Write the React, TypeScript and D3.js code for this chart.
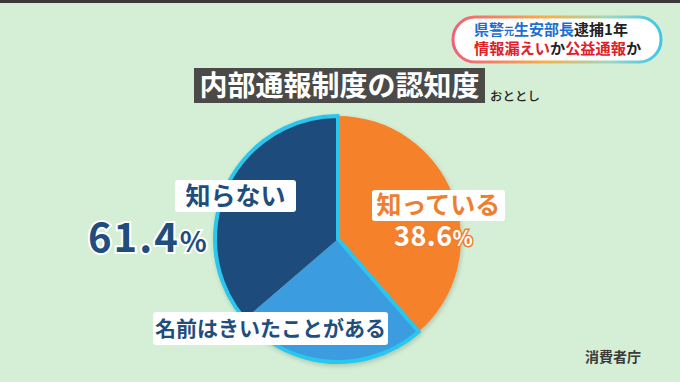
import React from "react";
import * as d3 from "d3";

const categories = ["知っている", "名前はきいたことがある", "全く知らない"];
const values = [38.6, 25.1, 36.3];
const groupLabels = ["知っている", "知らない"];
const groupValues = [38.6, 61.4];
const sliceColors = ["#f5822c", "#3b9de0", "#1c4b7c"];

const W = 680;
const H = 382;
const cx = 338;
const cy = 239;
const R = 123;

const FONT = "'Noto Sans CJK JP', 'Noto Sans', sans-serif";

export default function App() {
  const pie = d3.pie<number>().sort(null).value((d) => d)(values);
  const arc = d3.arc<d3.PieArcDatum<number>>().innerRadius(0).outerRadius(R);
  const groupArc = d3
    .arc()
    .innerRadius(0)
    .outerRadius(R)
    .startAngle(pie[1].startAngle)
    .endAngle(pie[2].endAngle);

  const fmt = (v: number) => v.toFixed(1);

  return (
    <svg
      width={W}
      height={H}
      style={{ position: "fixed", left: 0, top: 0, display: "block" }}
      fontFamily={FONT}
    >
      <defs>
        <linearGradient id="pill" x1="0" x2="1" y1="0" y2="0">
          <stop offset="0" stopColor="#f0607a" />
          <stop offset="0.45" stopColor="#f5b04a" />
          <stop offset="0.75" stopColor="#9ed8c0" />
          <stop offset="1" stopColor="#3fc6ea" />
        </linearGradient>
        <filter id="sh" x="-20%" y="-20%" width="140%" height="140%">
          <feDropShadow dx="1" dy="2" stdDeviation="2" floodColor="#000" floodOpacity="0.18" />
        </filter>
      </defs>
      <rect x={0} y={0} width={W} height={H} fill="#d4efd5" />
      <rect x={0} y={0} width={W} height={3} fill="#3a3a3a" />

      {/* top-right badge */}
      <rect x={453} y={17} width={208} height={45} rx={22} fill="#ffffff" stroke="url(#pill)" strokeWidth={3} />
      <text x={474} y={35} fontSize={15} fontWeight={700}>
        <tspan fill="#1a6fd2">県警</tspan>
        <tspan fill="#1a6fd2" fontSize={10}>元</tspan>
        <tspan fill="#1a6fd2">生安部長</tspan>
        <tspan fill="#222">逮捕1年</tspan>
      </text>
      <text x={474} y={54} fontSize={15.2} fontWeight={700}>
        <tspan fill="#e0202a">情報漏えい</tspan>
        <tspan fill="#222">か</tspan>
        <tspan fill="#e0202a">公益通報</tspan>
        <tspan fill="#222">か</tspan>
      </text>

      {/* title */}
      <rect x={194} y={68} width={291} height={35} fill="#4a4a48" />
      <text x={339.5} y={96} textAnchor="middle" fontSize={28} fontWeight={700} fill="#ffffff">
        内部通報制度の認知度
      </text>
      <text x={490} y={101} fontSize={12.5} fill="#222" fontWeight={500}>
        おととし
      </text>

      {/* pie */}
      <g transform={`translate(${cx},${cy})`} filter="url(#sh)">
        {pie.map((p, i) => (
          <path key={categories[i]} d={arc(p) || ""} fill={sliceColors[i]} />
        ))}
        <path d={(groupArc as any)() || ""} fill="none" stroke="#2ac6ee" strokeWidth={4} strokeLinejoin="round" />
      </g>

      {/* labels */}
      <rect x={175} y={180} width={121} height={32} rx={3} fill="#ffffff" />
      <text x={235.5} y={205} textAnchor="middle" fontSize={25} fontWeight={700} fill="#1f4e7e">
        {groupLabels[1]}
      </text>
      <text
        x={88}
        y={252}
        fontSize={40}
        fontWeight={700}
        fill="#1f4e7e"
        stroke="#ffffff"
        strokeWidth={4}
        paintOrder="stroke"
        letterSpacing={2}
      >
        {fmt(groupValues[1])}
        <tspan fontSize={28}>%</tspan>
      </text>

      <rect x={372} y={190} width={133} height={31} rx={3} fill="#ffffff" />
      <text x={438.5} y={214} textAnchor="middle" fontSize={25} fontWeight={700} fill="#ee7f30">
        {groupLabels[0]}
      </text>
      <text
        x={394}
        y={246}
        fontSize={27}
        fontWeight={700}
        fill="#ffffff"
        stroke="#ee7f30"
        strokeWidth={3}
        paintOrder="stroke"
        letterSpacing={0.5}
      >
        {fmt(groupValues[0])}
        <tspan fontSize={21}>%</tspan>
      </text>

      <rect x={153} y={312} width={235} height={33} rx={3} fill="#ffffff" />
      <text x={270.5} y={336} textAnchor="middle" fontSize={21} fontWeight={700} fill="#1f4e7e">
        {categories[1]}
      </text>

      <text x={585} y={362} fontSize={14} fontWeight={700} fill="#3a3a3a">
        消費者庁
      </text>
    </svg>
  );
}
